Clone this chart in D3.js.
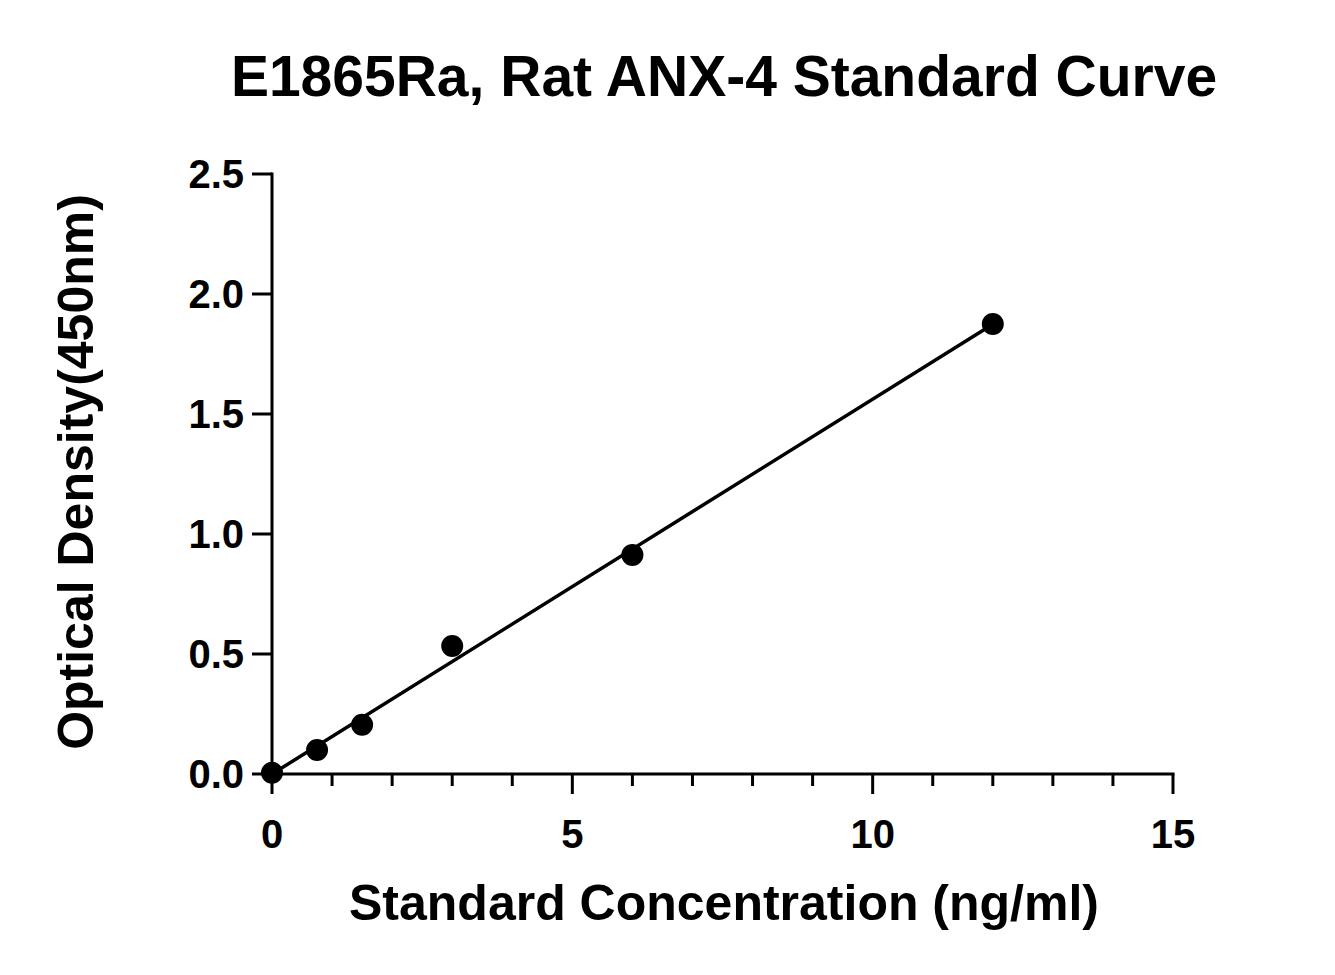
<!DOCTYPE html>
<html><head><meta charset="utf-8">
<script src="https://cdn.jsdelivr.net/npm/d3@7"></script>
<style>body{margin:0;background:#fff}text{font-family:"Liberation Sans",Arial,sans-serif;font-weight:bold;fill:#000}</style>
</head><body>
<svg id="c" width="1335" height="975"></svg>
<script>
const conc = [0, 0.75, 1.5, 3, 6, 12];
const od = [0.005, 0.10, 0.205, 0.533, 0.913, 1.875];
const xTicks = [0, 5, 10, 15];
const yTicks = [0.0, 0.5, 1.0, 1.5, 2.0, 2.5];

const svg = d3.select("#c");
const x = d3.scaleLinear().domain([0, 15]).range([272, 1173]);
const y = d3.scaleLinear().domain([0, 2.5]).range([774, 174]);

svg.append("text").attr("x", 724).attr("y", 96).attr("text-anchor", "middle")
  .style("font-size", "57px").text("E1865Ra, Rat ANX-4 Standard Curve");

const gx = svg.append("g").attr("transform", "translate(0,774)");
gx.append("line").attr("x1", 270.5).attr("x2", 1174.5).attr("stroke", "#000").attr("stroke-width", 3);
d3.range(0, 16).forEach(v => {
  const major = v % 5 === 0;
  gx.append("line").attr("x1", x(v)).attr("x2", x(v)).attr("y1", 0).attr("y2", major ? 20 : 12)
    .attr("stroke", "#000").attr("stroke-width", 3);
});
xTicks.forEach(v => gx.append("text").attr("x", x(v)).attr("y", 74).attr("text-anchor", "middle")
  .style("font-size", "40px").text(v));

const gy = svg.append("g").attr("transform", "translate(272,0)");
gy.append("line").attr("y1", 172.5).attr("y2", 775.5).attr("stroke", "#000").attr("stroke-width", 3);
yTicks.forEach(v => {
  gy.append("line").attr("x1", 0).attr("x2", -20).attr("y1", y(v)).attr("y2", y(v)).attr("stroke", "#000").attr("stroke-width", 3);
  gy.append("text").attr("x", -28).attr("y", y(v) + 14).attr("text-anchor", "end").style("font-size", "40px").text(v.toFixed(1));
});

svg.append("text").attr("x", 724).attr("y", 920).attr("text-anchor", "middle")
  .style("font-size", "50px").text("Standard Concentration (ng/ml)");
svg.append("text").attr("transform", "translate(93,472) rotate(-90)").attr("text-anchor", "middle")
  .style("font-size", "50px").text("Optical Density(450nm)");

const mx = d3.mean(conc), my = d3.mean(od);
const b = d3.sum(conc.map((c, i) => (c - mx) * (od[i] - my))) / d3.sum(conc.map(c => (c - mx) ** 2));
const a = my - b * mx;
svg.append("line").attr("x1", x(0)).attr("y1", y(a)).attr("x2", x(12)).attr("y2", y(a + b * 12))
  .attr("stroke", "#000").attr("stroke-width", 3.5);

svg.selectAll("circle").data(conc).join("circle")
  .attr("cx", d => x(d)).attr("cy", (d, i) => y(od[i])).attr("r", 11).attr("fill", "#000");
</script>
</body></html>
